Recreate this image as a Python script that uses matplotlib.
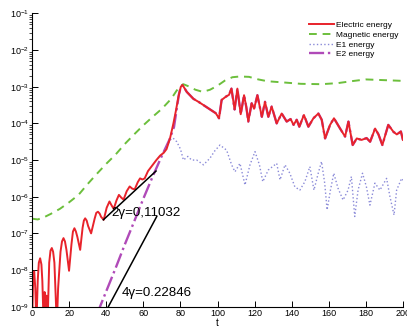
import numpy as np
import matplotlib
matplotlib.use('Agg')
import matplotlib.pyplot as plt

plt.rcParams['font.family'] = ['Liberation Sans', 'DejaVu Sans']

# log10 of the energies
t_el = [0, 0.5, 1.1, 1.7, 2.3, 3.0, 3.6, 4.3, 5.0, 5.5, 6.2, 6.7, 7.2, 7.8, 8.3, 9.2, 9.9, 10.6,
        11.3, 12.0, 13.3, 14.0, 15.3, 16.1, 16.9, 17.7, 18.5, 19.9, 21.2, 22.0, 22.8, 23.6, 24.4,
        25.9, 27.2, 27.9, 28.6, 29.4, 30.2, 31.8, 33.7, 34.6, 35.5, 36.4, 37.2, 38.6, 40.2, 41.7,
        43.0, 44.0, 45.5, 46.8, 48.0, 49.3, 51.0, 52.6, 54.0, 55.3, 57.0, 58.2, 59.5, 60.7, 62.5,
        64.0, 65.5, 67.0, 69.0, 71.0, 72.5, 74.4, 76.2, 77.6, 78.9, 80.2, 81.1, 83.4, 87.0, 90.0,
        93.0, 96.0, 99.0, 100.0, 100.8, 102.2, 104.5, 106.2, 107.5, 109.2, 110.7, 112.5, 114.3,
        115.5, 116.6, 118.4, 119.7, 121.5, 123.9, 125.6, 127.4, 129.2, 131.9, 134.6, 137.3, 139.4,
        141.0, 142.7, 144.1, 146.6, 149.0, 151.7, 154.4, 156.2, 158.0, 160.7, 162.8, 166.1, 168.8,
        170.6, 172.9, 175.1, 177.7, 180.4, 182.3, 185.0, 186.8, 188.9, 192.1, 194.9, 196.7, 198.9,
        200.0]
log_el = [-9.4, -8.3, -8.04, -8.5, -9.5, -8.3, -7.8, -7.68, -7.85, -8.3, -9.5, -8.6, -9.5, -8.7,
          -9.5, -7.8, -7.47, -7.4, -7.5, -7.8, -9.5, -8.5, -7.5, -7.22, -7.13, -7.22, -7.45, -8.02,
          -7.3, -6.95, -6.86, -6.95, -7.1, -7.45, -6.85, -6.65, -6.59, -6.65, -6.8, -7.0, -6.6,
          -6.44, -6.41, -6.46, -6.55, -6.63, -6.3, -6.13, -6.25, -6.33, -6.1, -5.95, -6.02, -6.08,
          -5.85, -5.72, -5.78, -5.8, -5.6, -5.5, -5.53, -5.5, -5.3, -5.2, -5.1, -5.0, -4.88, -4.8,
          -4.7, -4.4, -4.0, -3.64, -3.27, -3.0, -2.95, -3.14, -3.33, -3.42, -3.52, -3.62, -3.72,
          -3.8, -3.86, -3.36, -3.27, -3.22, -3.05, -3.62, -3.05, -3.75, -3.23, -3.55, -3.95, -3.45,
          -3.6, -3.23, -3.82, -3.41, -3.82, -3.54, -4.0, -3.73, -3.95, -3.88, -4.04, -3.9, -4.09,
          -3.77, -4.09, -3.86, -3.73, -3.9, -4.41, -4.04, -3.86, -4.14, -4.36, -3.95, -4.59, -4.41,
          -4.45, -4.4, -4.5, -4.14, -4.3, -4.59, -4.04, -4.23, -4.3, -4.22, -4.45]

t_mag = [0, 3, 6, 10, 15, 20, 25, 30, 35, 40, 45, 50, 55, 60, 65, 70, 75, 78, 81.5, 85, 88, 92,
         96, 100, 104, 108, 112, 117, 122, 127, 135, 145, 156, 165, 172, 180, 190, 200]
log_mag = [-6.6, -6.62, -6.57, -6.47, -6.33, -6.15, -5.95, -5.65, -5.37, -5.1, -4.85, -4.56, -4.3,
           -4.05, -3.82, -3.6, -3.33, -3.1, -2.93, -3.0, -3.08, -3.14, -3.08, -2.97, -2.83, -2.74,
           -2.72, -2.73, -2.8, -2.85, -2.88, -2.92, -2.93, -2.9, -2.85, -2.8, -2.82, -2.84]

t_e1 = [68, 70, 72, 74.4, 76, 78, 80, 81.6, 84, 86, 88.8, 92.4, 95.9, 98.5, 101.3, 104.9, 107.6,
        109.4, 112.1, 114.8, 117.5, 120.2, 122.6, 124.4, 127.4, 131.9, 133.7, 136.4, 139, 141.7,
        144.4, 147.1, 149.8, 152, 154.3, 156.1, 157.8, 159.1, 160.9, 162.7, 165, 167.7, 170.4,
        172.2, 174, 175.8, 178.2, 180.3, 182.2, 184.9, 187.6, 191.2, 193, 195.2, 196.6, 199.3, 200]
log_e1 = [-4.95, -4.85, -4.7, -4.45, -4.4, -4.5, -4.7, -5.0, -4.9, -5.0, -5.0, -5.13, -4.95, -4.75,
          -4.59, -4.73, -5.13, -5.32, -5.09, -5.68, -5.13, -4.77, -5.13, -5.59, -5.27, -5.09, -5.54,
          -5.13, -5.36, -5.73, -5.82, -5.59, -5.18, -5.82, -5.36, -5.04, -5.63, -6.36, -5.82, -5.36,
          -5.77, -6.09, -5.82, -5.45, -6.54, -5.82, -5.36, -5.73, -6.23, -5.63, -5.82, -5.5, -6.0,
          -6.5, -5.82, -5.5, -5.55]

# E2 linear phase, afterwards it sits on the electric energy
t_e2_lin = [35, 37, 45, 50, 55, 60, 65, 70, 74, 76.5, 78, 79.2]
log_e2_lin = [-9.2, -8.95, -7.95, -7.3, -6.68, -6.05, -5.45, -4.88, -4.45, -4.1, -3.6, -3.2]

# growth rate fits
fit2_t = [38.4, 66.8]
fit2_log = [-6.63, -5.3]
fit4_t = [41.1, 67.2]
fit4_log = [-9.0, -6.54]

t_el = np.array(t_el)
log_el = np.array(log_el)
later = t_el >= 80
t_e2 = np.concatenate([t_e2_lin, t_el[later]])
log_e2 = np.concatenate([log_e2_lin, log_el[later]])

fig = plt.figure(figsize=(4.07, 3.28), dpi=100)
ax = fig.add_axes([0.079, 0.065, 0.911, 0.894])

ax.semilogy(t_e2, 10.0 ** log_e2, color='#b04ab8', lw=1.7, ls='-.')
ax.semilogy(t_mag, 10.0 ** np.array(log_mag), color='#6cbf3c', lw=1.4, ls=(0, (4, 3)),
            label='Magnetic energy')
ax.semilogy(t_e1, 10.0 ** np.array(log_e1), color='#8a8ad8', lw=1.0, ls=':', label='E1 energy')
ax.semilogy(t_el, 10.0 ** log_el, color='#e8232b', lw=1.4, label='Electric energy')
ax.semilogy(fit2_t, 10.0 ** np.array(fit2_log), color='k', lw=1.1)
ax.semilogy(fit4_t, 10.0 ** np.array(fit4_log), color='k', lw=1.1)

ax.text(42.5, 10 ** -6.45, '2γ=0,11032', fontsize=9.6, va='center')
ax.text(48.5, 10 ** -8.62, '4γ=0.22846', fontsize=9.6, va='center')

ax.set_xlim(0, 200)
ax.set_ylim(1e-9, 1e-1)
ax.set_xticks(np.arange(0, 201, 20))
ax.set_xlabel('t', fontsize=7, labelpad=0)
ax.tick_params(direction='in', labelsize=6.5, pad=2)
ax.tick_params(which='major', length=4, width=0.7)
ax.tick_params(which='minor', length=2, width=0.5)
ax.spines['top'].set_visible(False)
ax.spines['right'].set_visible(False)

e2_line = ax.lines[0]
mag_line, e1_line, el_line = ax.lines[1], ax.lines[2], ax.lines[3]
ax.legend([el_line, mag_line, e1_line, e2_line],
          ['Electric energy', 'Magnetic energy', 'E1 energy', 'E2 energy'],
          loc='upper left', bbox_to_anchor=(0.749, 0.947), bbox_transform=fig.transFigure,
          frameon=False, fontsize=6, borderpad=0, handlelength=3, handletextpad=0.25,
          labelspacing=0.22)

fig.savefig('out.png', dpi=100)
